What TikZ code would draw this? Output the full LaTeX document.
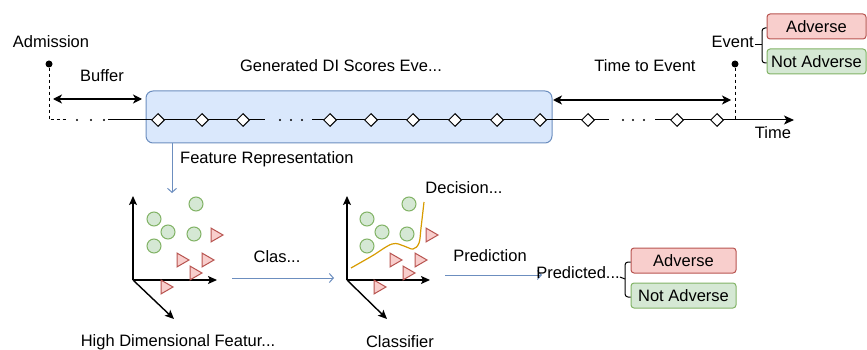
\documentclass[tikz,border=0pt]{standalone}
\usepackage{fontspec}
\setmainfont{Liberation Sans}
\usetikzlibrary{arrows.meta,shapes.geometric}
\definecolor{blueF}{HTML}{DAE8FC}
\definecolor{blueS}{HTML}{6C8EBF}
\definecolor{redF}{HTML}{F8CECC}
\definecolor{redS}{HTML}{B85450}
\definecolor{greenF}{HTML}{D5E8D4}
\definecolor{greenS}{HTML}{82B366}
\definecolor{orangeS}{HTML}{D79B00}
\begin{document}
\begin{tikzpicture}[x=1pt,y=-1pt,font=\fontsize{16.5}{19}\selectfont,
  lbl/.style={inner sep=0pt},
  dia/.style={diamond,draw=black,fill=white,line width=1pt,minimum size=13pt,inner sep=0pt},
  pt/.style={circle,fill=black,inner sep=0pt,minimum size=7pt},
  dash3/.style={line width=1pt,dash pattern=on 3pt off 3pt},
  tl/.style={line width=1pt},
  dbl/.style={line width=1.3pt,{Stealth[length=9pt,width=9pt,inset=2.5pt]}-{Stealth[length=9pt,width=9pt,inset=2.5pt]}},
  flow/.style={draw=blueS,line width=1pt,-{Straight Barb[length=4pt,width=9pt]}},
  axis/.style={line width=1.4pt,-{Stealth[length=9pt,width=8pt,inset=2pt]}},
  gc/.style={circle,draw=greenS,fill=greenF,line width=1pt,minimum size=14pt,inner sep=0pt},
  rt/.style={regular polygon,regular polygon sides=3,rotate=-90,draw=redS,fill=redF,line width=1pt,minimum size=16pt,inner sep=0pt},
  redbox/.style={draw=redS,fill=redF,rounded corners=3pt,line width=1pt,inner sep=0pt},
  greenbox/.style={draw=greenS,fill=greenF,rounded corners=3pt,line width=1pt,inner sep=0pt},
  dotp/.style={circle,fill=black,inner sep=0pt,minimum size=2.4pt}
]
\useasboundingbox (0,0) rectangle (867,350);

% ---------- timeline ----------
\node[draw=blueS,fill=blueF,rounded corners=7pt,line width=1pt,minimum width=406pt,minimum height=52pt,inner sep=0pt] (box) at (349,117) {};

\node[lbl] (admlbl) at (51,42) {Admission};
\node[pt] (admdot) at (49,64) {};
\coordinate (tlstart) at (49,120);
\coordinate (dashend) at (68,120);
\node[lbl] (bufflbl) at (102,76) {Buffer};
\coordinate (bufL) at (53,99);
\coordinate (bufR) at (142,99);
\draw[dbl] (bufL) -- (bufR);

\node[lbl] (genlbl) at (341,66) {Generated DI Scores Eve...};
\node[lbl] (ttelbl) at (645,66) {Time to Event};
\coordinate (tteL) at (553,100);
\coordinate (tteR) at (731,100);
\draw[dbl] (tteL) -- (tteR);

\node[pt] (evdot) at (735,64) {};
\coordinate (evbase) at (735,120);
\draw[dash3] (admdot) -- (tlstart) -- (dashend);
\draw[dash3] (evdot) -- (evbase);

\foreach \x/\n in {77/a1,91/a2,104/a3,280/b1,291/b2,302/b3,623/c1,633/c2,644/c3}
  \node[dotp] (\n) at (\x,120) {};

\coordinate (s1a) at (108,120);
\coordinate (s1b) at (265,120);
\coordinate (s2a) at (312,120);
\coordinate (s2b) at (609,120);
\coordinate (s3a) at (655,120);
\coordinate (tend) at (794,120);
\draw[tl] (s1a) -- (s1b);
\draw[tl] (s2a) -- (s2b);
\draw[tl,-{Stealth[length=10pt,width=9pt,inset=2.5pt]}] (s3a) -- (tend);

\foreach \x/\n in {158/d1,202/d2,243/d3,330/d4,371/d5,413/d6,455/d7,497/d8,540/d9,588/d10,677/d11,717/d12}
  \node[dia] (\n) at (\x,120) {};

\node[lbl] (timelbl) at (773,133) {Time};

% ---------- top outcome ----------
\node[lbl,anchor=east] (evlbl) at (754,42) {Event};
\node[redbox,minimum width=99pt,minimum height=25pt] (advT) at (816.5,26.5) {Adverse};
\node[greenbox,minimum width=99pt,minimum height=25pt] (nadvT) at (816.5,61.5) {Not Adverse};
\coordinate (brT) at (762,45);
\draw[line width=1pt,rounded corners=3pt] (advT.west|-0,28) -- (762,28) -- (762,63) -- (nadvT.west|-0,63);
\draw[line width=1pt] (evlbl.east) ++(1,3) -- (brT);

% ---------- feature representation ----------
\coordinate (p1top) at (172,193);
\draw[flow] (box.south -| p1top) -- (p1top);
\node[lbl,anchor=west] (frlbl) at (180,159) {Feature Representation};

% ---------- plot 1 ----------
\coordinate (o1) at (133,280);
\coordinate (o1y) at (133,196);
\coordinate (o1x) at (217,280);
\coordinate (o1z) at (174,319);
\draw[axis] (o1) -- (o1y);
\draw[axis] (o1) -- (o1x);
\draw[axis] (o1) -- (o1z);
\foreach \x/\y/\n in {154/219/g1,168/232/g2,154/246/g3,196/204/g4,194/234/g5}
  \node[gc] (\n) at (\x,\y) {};
\foreach \x/\y/\n in {215/235/t1,181/260/t2,206/260/t3,194/273/t4,165/287/t5}
  \node[rt] (\n) at (\x,\y) {};
\node[lbl] (hdlbl) at (178,342) {High Dimensional Featur...};

% ---------- classifier arrow ----------
\coordinate (c1) at (232,278);
\coordinate (c2) at (334,278);
\draw[flow] (c1) -- (c2);
\node[lbl] (claslbl) at (277,257) {Clas...};

% ---------- plot 2 ----------
\coordinate (o2) at (347,280);
\coordinate (o2y) at (347,196);
\coordinate (o2x) at (430,280);
\coordinate (o2z) at (387,319);
\draw[axis] (o2) -- (o2y);
\draw[axis] (o2) -- (o2x);
\draw[axis] (o2) -- (o2z);
\foreach \x/\y/\n in {367/219/h1,382/232/h2,367/246/h3,409/204/h4,407/234/h5}
  \node[gc] (\n) at (\x,\y) {};
\foreach \x/\y/\n in {430/235/u1,394/260/u2,419/260/u3,407/273/u4,378/287/u5}
  \node[rt] (\n) at (\x,\y) {};
\draw[draw=orangeS,line width=1.2pt] plot[smooth,tension=0.6] coordinates {(351,268) (372,256) (392,244) (404,246) (413,249) (419,243) (421,228) (424,202)};
\node[lbl] (declbl) at (464,188) {Decision...};
\node[lbl] (cllbl) at (400,342) {Classifier};

% ---------- prediction ----------
\coordinate (pa) at (445,275);
\coordinate (pb) at (542,275);
\draw[flow] (pa) -- (pb);
\node[lbl] (predlbl) at (490,256) {Prediction};
\node[lbl] (predd) at (578,273) {Predicted...};
\node[redbox,minimum width=105pt,minimum height=25pt] (advB) at (683.5,260.5) {Adverse};
\node[greenbox,minimum width=105pt,minimum height=25pt] (nadvB) at (683.5,295.5) {Not Adverse};
\coordinate (brB) at (625,279);
\draw[line width=1pt,rounded corners=3pt] (advB.west|-0,262) -- (625,262) -- (625,297) -- (nadvB.west|-0,297);
\draw[line width=1pt] (predd.east) ++(0,4) -- (brB);
\end{tikzpicture}
\end{document}
